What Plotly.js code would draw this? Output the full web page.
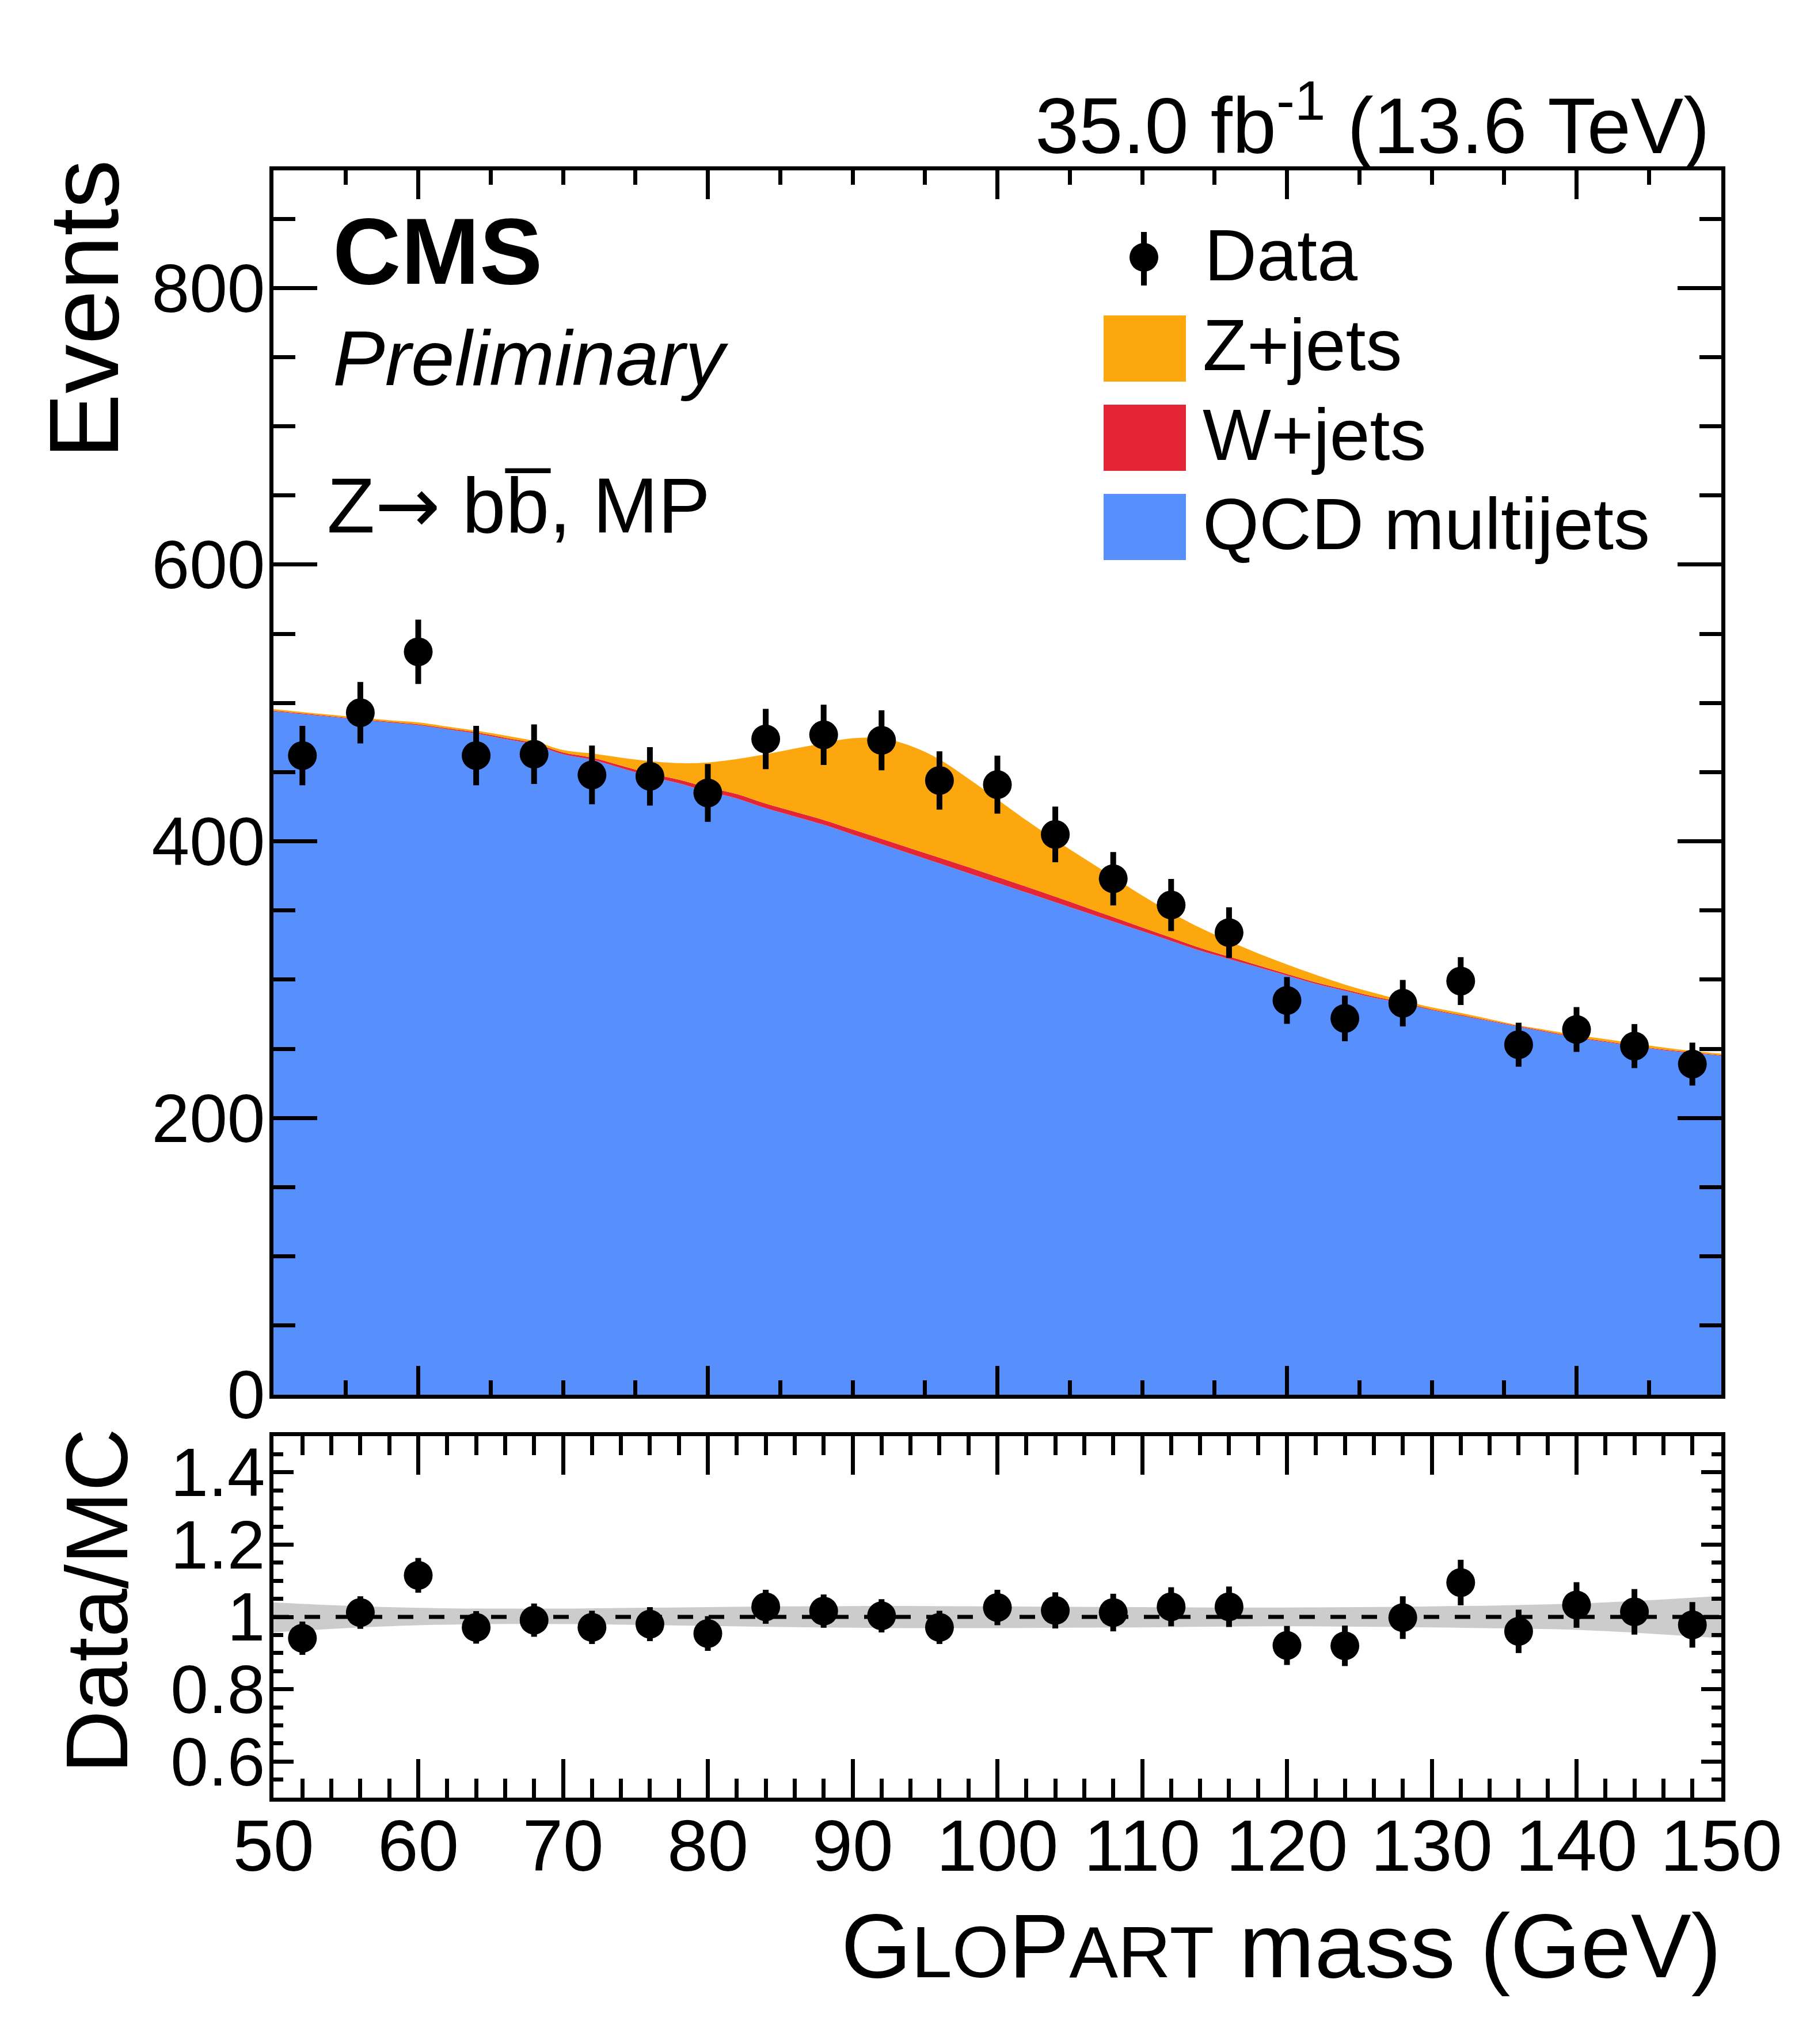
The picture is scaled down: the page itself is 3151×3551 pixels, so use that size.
<!DOCTYPE html>
<html>
<head>
<meta charset="utf-8">
<script src="https://cdn.plot.ly/plotly-3.0.1.min.js"></script>
<style>html,body{margin:0;padding:0;background:#fff;}#chart{width:3151px;height:3551px;}</style>
</head>
<body>
<div id="chart"></div>
<script>
// ---------------- data ----------------
const binCenters = [52,56,60,64,68,72,76,80,84,88,92,96,100,104,108,112,116,120,124,128,132,136,140,144,148];
const dataVals   = [462,493,537,462,463,448,447,435,474,477,473,444,441,405,373,354,334,285,272,283,299,253,264,252,239];
const dataErr    = [21.5,22.2,23.2,21.5,21.5,21.2,21.1,20.9,21.8,21.8,21.7,21.1,21.0,20.1,19.3,18.8,18.3,16.9,16.5,16.8,17.3,15.9,16.2,15.9,15.5];

const curveX = [50,52,54,56,58,60,62,64,66,68,70,72,74,76,78,80,82,84,86,88,90,92,94,96,98,100,102,104,106,108,110,112,114,116,118,120,122,124,126,128,130,132,134,136,138,140,142,144,146,148,150];
const qcdVals = [494,492,490,488,486,484,481,478,474,470,463,459,453,447,442,436,431,424,418,412,405,398,391,384,377,370,363,356,349,342,335,328,321,315,309,303,297,292,287,283,278,274,270,266,262,258,255,252,249,247,245];
const wjetsVals = [0.5,0.5,0.5,0.5,0.5,0.6,0.7,0.8,0.9,1.0,1.2,1.5,1.8,2.2,2.6,3.0,3.2,3.3,3.4,3.5,3.6,3.8,4.0,4.2,4.3,4.3,4.2,4.0,3.6,3.2,2.8,2.4,2.0,1.7,1.4,1.2,1.0,0.9,0.8,0.7,0.6,0.6,0.5,0.5,0.5,0.5,0.5,0.5,0.5,0.5,0.5];
const zjetsVals = [1,1,1,1,1,1.4,1.3,1.2,1.6,1.5,1.8,3,5.7,8.8,11.9,18,25.3,35.7,45.6,55.5,65.9,72.7,74,71,64,56,48,41,35,29,23,18.1,14.5,11.3,8.6,6.8,5.5,3.6,2.7,1.3,1.4,1.4,1,0.5,1,1.5,1.5,1.5,1.5,1,1];

const ratioVals = [0.941,1.012,1.115,0.971,0.991,0.971,0.980,0.954,1.028,1.016,1.003,0.971,1.026,1.018,1.012,1.028,1.028,0.921,0.920,0.998,1.095,0.960,1.033,1.014,0.978];
const ratioErr  = [0.046,0.045,0.048,0.045,0.046,0.046,0.047,0.048,0.047,0.046,0.046,0.046,0.049,0.050,0.052,0.054,0.056,0.054,0.056,0.059,0.063,0.060,0.063,0.063,0.063];

const bandX  = [50,55,60,65,70,75,80,85,90,95,100,105,110,115,120,125,130,135,140,145,150];
const bandHi = [1.040,1.031,1.025,1.023,1.023,1.025,1.027,1.029,1.030,1.030,1.029,1.028,1.027,1.026,1.026,1.027,1.029,1.032,1.037,1.046,1.058];
const bandLo = [0.957,0.969,0.977,0.980,0.980,0.978,0.975,0.972,0.970,0.969,0.969,0.970,0.971,0.973,0.974,0.973,0.971,0.968,0.964,0.954,0.941];

const yTickVals = [0,200,400,600,800];
const rTickVals = [0.6,0.8,1,1.2,1.4];
const rTickText = ['0.6','0.8','1','1.2','1.4'];
const xTickVals = [50,60,70,80,90,100,110,120,130,140,150];

const legendNames = ['Data','Z+jets','W+jets','QCD multijets'];
const colQCD = '#5790fc', colW = '#e42536', colZ = '#fda70f', colBand = '#cccccc';

// ---------------- geometry helpers ----------------
const W = 3151, H = 3551;
const px = v => v / W;
const py = v => 1 - v / H;
const FONT = 'Liberation Sans, Arial, Helvetica, sans-serif';

const traces = [
  {x: curveX, y: qcdVals, type:'scatter', mode:'lines', stackgroup:'mc', line:{width:0, shape:'spline'}, fillcolor: colQCD, xaxis:'x', yaxis:'y', hoverinfo:'skip'},
  {x: curveX, y: wjetsVals, type:'scatter', mode:'lines', stackgroup:'mc', line:{width:0, shape:'spline'}, fillcolor: colW, xaxis:'x', yaxis:'y', hoverinfo:'skip'},
  {x: curveX, y: zjetsVals, type:'scatter', mode:'lines', stackgroup:'mc', line:{width:0, shape:'spline'}, fillcolor: colZ, xaxis:'x', yaxis:'y', hoverinfo:'skip'},
  {x: binCenters, y: dataVals, type:'scatter', mode:'markers', marker:{size:50, color:'#000'},
   error_y:{type:'data', array: dataErr, visible:true, thickness:10, width:0, color:'#000'}, xaxis:'x', yaxis:'y'},
  {x: bandX, y: bandLo, type:'scatter', mode:'lines', line:{width:0, shape:'spline'}, xaxis:'x2', yaxis:'y2', hoverinfo:'skip'},
  {x: bandX, y: bandHi, type:'scatter', mode:'lines', line:{width:0, shape:'spline'}, fill:'tonexty', fillcolor: colBand, xaxis:'x2', yaxis:'y2', hoverinfo:'skip'},
  {x: binCenters, y: ratioVals, type:'scatter', mode:'markers', marker:{size:50, color:'#000'},
   error_y:{type:'data', array: ratioErr, visible:true, thickness:10, width:0, color:'#000'}, xaxis:'x2', yaxis:'y2'}
];

const xDom = [px(475), px(2990)];
const axBase = {showline:true, linewidth:7, linecolor:'#000', mirror:'allticks', ticks:'inside', tickwidth:7, tickcolor:'#000',
  showgrid:false, zeroline:false, tickfont:{family:FONT, size:118, color:'#000'}};

const layout = {
  width: W, height: H, margin:{l:0,r:0,t:0,b:0}, paper_bgcolor:'#fff', plot_bgcolor:'rgba(0,0,0,0)', showlegend:false,
  xaxis: Object.assign({}, axBase, {domain:xDom, anchor:'y', range:[50,150], tick0:0, dtick:20, ticklen:50, showticklabels:false,
     minor:{dtick:5, tick0:0, ticklen:25, tickwidth:7, ticks:'inside', tickcolor:'#000'}}),
  yaxis: Object.assign({}, axBase, {domain:[py(2423), py(296)], anchor:'x', range:[0,885], tickvals: yTickVals, ticklen:76, ticklabelstandoff:-16,
     minor:{dtick:50, tick0:0, ticklen:38, tickwidth:7, ticks:'inside', tickcolor:'#000'}}),
  xaxis2: Object.assign({}, axBase, {domain:xDom, anchor:'y2', range:[50,150], tickvals: xTickVals, ticklen:67, ticklabelstandoff:-32,
     tickfont:{family:FONT, size:127, color:'#000'},
     minor:{dtick:2, tick0:0, ticklen:33, tickwidth:7, ticks:'inside', tickcolor:'#000'}}),
  yaxis2: Object.assign({}, axBase, {domain:[py(3123), py(2495)], anchor:'x2', range:[0.5,1.5], tickvals: rTickVals, ticktext: rTickText, ticklen:35, ticklabelstandoff:-16,
     minor:{dtick:0.05, tick0:0, ticklen:17, tickwidth:7, ticks:'inside', tickcolor:'#000'}}),
  shapes: [
    {type:'line', xref:'x2', yref:'y2', x0:50, x1:150, y0:1, y1:1, line:{color:'#000', width:7, dash:'27px,27px'}},
    // legend glyphs
    {type:'line', xref:'paper', yref:'paper', x0:px(1987), x1:px(1987), y0:py(403), y1:py(496), line:{color:'#000', width:10}},
    {type:'circle', xref:'paper', yref:'paper', x0:px(1962), x1:px(2012), y0:py(472), y1:py(422), fillcolor:'#000', line:{width:0}},
    {type:'rect', xref:'paper', yref:'paper', x0:px(1917), x1:px(2060), y0:py(663), y1:py(548), fillcolor:colZ, line:{width:0}},
    {type:'rect', xref:'paper', yref:'paper', x0:px(1917), x1:px(2060), y0:py(818), y1:py(703), fillcolor:colW, line:{width:0}},
    {type:'rect', xref:'paper', yref:'paper', x0:px(1917), x1:px(2060), y0:py(973), y1:py(858), fillcolor:colQCD, line:{width:0}}
  ],
  annotations: [
    {text:'35.0 fb<sup>-1</sup> (13.6 TeV)', xref:'paper', yref:'paper', x:px(2972), y:py(208), xanchor:'right', yanchor:'middle', showarrow:false, font:{family:FONT, size:137, color:'#000'}},
    {text:'<b>CMS</b>', xref:'paper', yref:'paper', x:px(576), y:py(437), xanchor:'left', yanchor:'middle', showarrow:false, font:{family:FONT, size:164, color:'#000'}},
    {text:'<i>Preliminary</i>', xref:'paper', yref:'paper', x:px(576), y:py(622), xanchor:'left', yanchor:'middle', showarrow:false, font:{family:FONT, size:136, color:'#000'}},
    {text:'Z<span style="font-family:DejaVu Sans">\u2192</span> bb\u0305, MP', xref:'paper', yref:'paper', x:px(566), y:py(878), xanchor:'left', yanchor:'middle', showarrow:false, font:{family:FONT, size:136, color:'#000'}},
    {text:legendNames[0], xref:'paper', yref:'paper', x:px(2090), y:py(443), xanchor:'left', yanchor:'middle', showarrow:false, font:{family:FONT, size:126, color:'#000'}},
    {text:legendNames[1], xref:'paper', yref:'paper', x:px(2087), y:py(600), xanchor:'left', yanchor:'middle', showarrow:false, font:{family:FONT, size:126, color:'#000'}},
    {text:legendNames[2], xref:'paper', yref:'paper', x:px(2087), y:py(755), xanchor:'left', yanchor:'middle', showarrow:false, font:{family:FONT, size:126, color:'#000'}},
    {text:legendNames[3], xref:'paper', yref:'paper', x:px(2087), y:py(910), xanchor:'left', yanchor:'middle', showarrow:false, font:{family:FONT, size:126, color:'#000'}},
    {text:'Events', xref:'paper', yref:'paper', x:px(146), y:py(537), xanchor:'center', yanchor:'middle', textangle:-90, showarrow:false, font:{family:FONT, size:170, color:'#000'}},
    {text:'Data/MC', xref:'paper', yref:'paper', x:px(168), y:py(2781), xanchor:'center', yanchor:'middle', textangle:-90, showarrow:false, font:{family:FONT, size:152, color:'#000'}},
    {text:'G<span style="font-size:127px">LO</span>P<span style="font-size:127px">ART</span> mass (GeV)', xref:'paper', yref:'paper', x:px(2992), y:py(3380), xanchor:'right', yanchor:'middle', showarrow:false, font:{family:FONT, size:157, color:'#000'}}
  ]
};

Plotly.newPlot('chart', traces, layout, {staticPlot:true, displayModeBar:false});
</script>
</body>
</html>
